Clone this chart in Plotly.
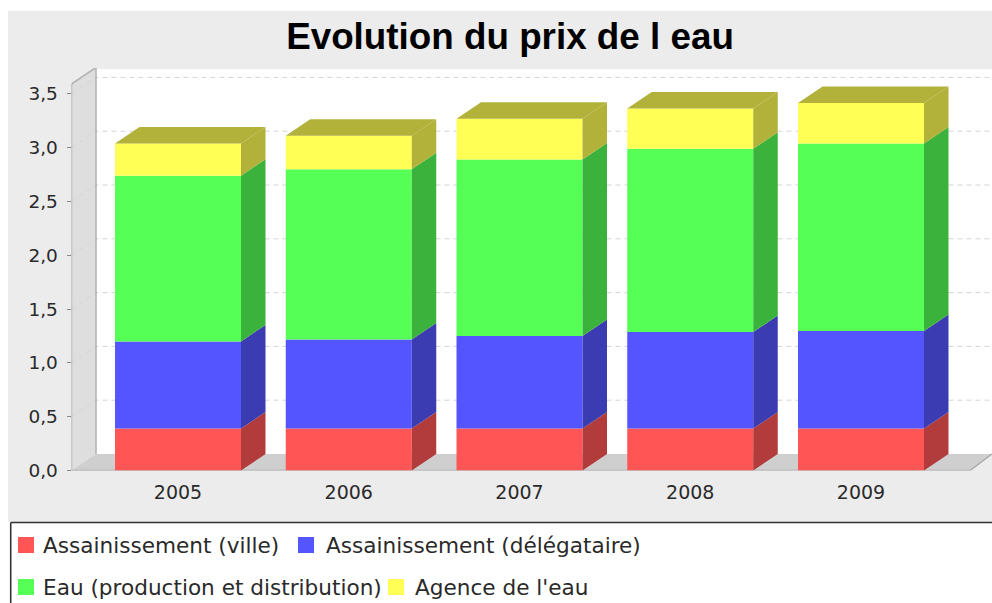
import plotly.graph_objects as go

years = ["2005", "2006", "2007", "2008", "2009"]
ville = [0.39, 0.39, 0.39, 0.39, 0.39]
delegataire = [0.81, 0.827, 0.86, 0.897, 0.906]
eau = [1.54, 1.583, 1.64, 1.703, 1.744]
agence = [0.30, 0.31, 0.38, 0.374, 0.375]
names = ["Assainissement (ville)", "Assainissement (délégataire)",
         "Eau (production et distribution)", "Agence de l'eau"]
series = [ville, delegataire, eau, agence]
front_colors = ["#ff5555", "#5555ff", "#55ff55", "#ffff55"]
side_colors = ["#b23b3b", "#3b3bb2", "#3bb23b", "#b2b23b"]
y_ticks = [0, 0.5, 1, 1.5, 2, 2.5, 3, 3.5]
y_labels = ["0,0", "0,5", "1,0", "1,5", "2,0", "2,5", "3,0", "3,5"]

W, H = 992, 603
FONT = "DejaVu Sans"
TXT = "#2a2a2a"
px_x = lambda p: p / W
px_y = lambda p: 1 - p / H

# axis scale (pixels per data unit)
X0, XU = 178.0, 170.75
Y0, YU = 470.5, 107.6
plot_l, plot_r, plot_t = 71.5, 992.0, 68.0
xr = [(plot_l - X0) / XU, (plot_r - X0) / XU]
yr = [0, (Y0 - plot_t) / YU]
dx = 24.5 / XU
dy = 16.5 / YU
bw = 126 / XU
x_front_r = (970 - X0) / XU
y_front_t = (Y0 - 84) / YU

x = list(range(len(years)))
fig = go.Figure()
base = [0.0] * len(x)
side_traces = []
for name, vals, fc, sc in zip(names, series, front_colors, side_colors):
    fig.add_trace(go.Bar(x=x, y=vals, base=base, width=bw, name=name, marker=dict(color=fc, line_width=0),
                         showlegend=False, hoverinfo="skip"))
    sx, sy = [], []
    for i, (b, v) in enumerate(zip(base, vals)):
        r = x[i] + bw / 2
        sx += [r, r + dx, r + dx, r, r, None]
        sy += [b, b + dy, b + v + dy, b + v, b, None]
    side_traces.append(go.Scatter(x=sx, y=sy, mode="lines", fill="toself", fillcolor=sc, line=dict(width=0),
                                  showlegend=False, hoverinfo="skip"))
    base = [b + v for b, v in zip(base, vals)]
tx, ty = [], []
for i, t in enumerate(base):
    l, r = x[i] - bw / 2, x[i] + bw / 2
    tx += [l, l + dx, r + dx, r, l, None]
    ty += [t, t + dy, t + dy, t, t, None]
side_traces.append(go.Scatter(x=tx, y=ty, mode="lines", fill="toself", fillcolor=side_colors[3], line=dict(width=0),
                              showlegend=False, hoverinfo="skip"))
fig.add_traces(side_traces)

frame = dict(color="#333333", width=1.6)
shapes = [
    # chart background and legend frame (page pixels)
    dict(type="rect", xref="paper", yref="paper", x0=px_x(8), x1=1, y0=px_y(522), y1=px_y(11),
         fillcolor="#ececec", line_width=0, layer="below"),
    dict(type="line", xref="paper", yref="paper", x0=px_x(10.7), x1=1, y0=px_y(522.5), y1=px_y(522.5),
         line=frame, layer="below"),
    dict(type="line", xref="paper", yref="paper", x0=px_x(10.7), x1=px_x(10.7), y0=0, y1=px_y(522.5),
         line=frame, layer="below"),
]
xl = xr[0]
# back wall, side wall, floor
shapes += [
    dict(type="rect", x0=xl + dx, x1=xr[1], y0=dy, y1=yr[1], fillcolor="white",
         line_width=0, layer="below"),
    dict(type="path", path=f"M{xl},0 L{xl},{y_front_t} L{xl+dx},{y_front_t+dy} L{xl+dx},{dy} Z",
         fillcolor="#dedede", line_width=0, layer="below"),
    dict(type="path", path=f"M{xl},0 L{xl+dx},{dy} L{xr[1]},{dy} L{x_front_r},0 Z",
         fillcolor="#cfcfcf", line_width=0, layer="below"),
]
for v in y_ticks[1:]:
    shapes.append(dict(type="path", path=f"M{xl},{v} L{xl+dx},{v+dy} L{xr[1]},{v+dy}",
                       line=dict(color="#d4d4d4", width=1, dash="5px,4px"), layer="below"))
edge = dict(color="#b4b4b4", width=1.6)
shapes += [
    dict(type="path", path=f"M{xl},{y_front_t} L{xl+dx},{y_front_t+dy} L{xr[1]},{y_front_t+dy}", line=edge, layer="below"),
    dict(type="line", x0=xl + dx, x1=xl + dx, y0=dy, y1=y_front_t + dy, line=edge, layer="below"),
    dict(type="path", path=f"M{xl},0 L{xl},{y_front_t}", line=dict(color="#a8a8a8", width=1.4), layer="below"),
    dict(type="path", path=f"M{xl},0 L{x_front_r},0 L{xr[1]},{dy}", line=dict(color="#a8a8a8", width=1.4), layer="below"),
]

# legend rows
legend_pos = [(18, 545, 41), (298, 545, 324), (18, 587, 41), (388, 587, 413)]
annotations = []
for (sx0, yc, tx0), name, c in zip(legend_pos, names, front_colors):
    shapes.append(dict(type="rect", xref="paper", yref="paper", x0=px_x(sx0), x1=px_x(sx0 + 16),
                       y0=px_y(yc + 8), y1=px_y(yc - 8), fillcolor=c, line_width=0))
    annotations.append(dict(xref="paper", yref="paper", x=px_x(tx0), y=px_y(yc), text=name, showarrow=False,
                            xanchor="left", yanchor="middle", font=dict(family=FONT, size=21.6, color=TXT)))

fig.update_layout(
    width=W, height=H, autosize=False, margin=dict(l=0, r=0, t=0, b=0, pad=0),
    paper_bgcolor="white", plot_bgcolor="rgba(0,0,0,0)", barmode="overlay", showlegend=False,
    title=dict(text="<b>Evolution du prix de l eau</b>", x=510 / W, xanchor="center", xref="paper",
               y=px_y(36), yref="paper", yanchor="middle", automargin=False,
               font=dict(family="Liberation Sans", size=36.8, color="black")),
    xaxis=dict(domain=[px_x(plot_l), 1], range=xr, tickmode="array", tickvals=x, ticktext=years, automargin=False,
               showgrid=False, zeroline=False, showline=False, ticks="", ticklabelstandoff=8,
               tickfont=dict(family=FONT, size=19, color=TXT)),
    yaxis=dict(domain=[px_y(Y0), px_y(plot_t)], range=yr, tickmode="array", tickvals=y_ticks, ticktext=y_labels,
               automargin=False, showgrid=False, zeroline=False, showline=False, ticks="outside", ticklen=4,
               tickwidth=1.4, tickcolor="#888888", ticklabelstandoff=5,
               tickfont=dict(family=FONT, size=18.5, color=TXT)),
    shapes=shapes, annotations=annotations,
)
fig.write_html("out.html", post_script="document.body.style.margin='0';document.body.style.overflow='hidden';",
               config=dict(displayModeBar=False))
